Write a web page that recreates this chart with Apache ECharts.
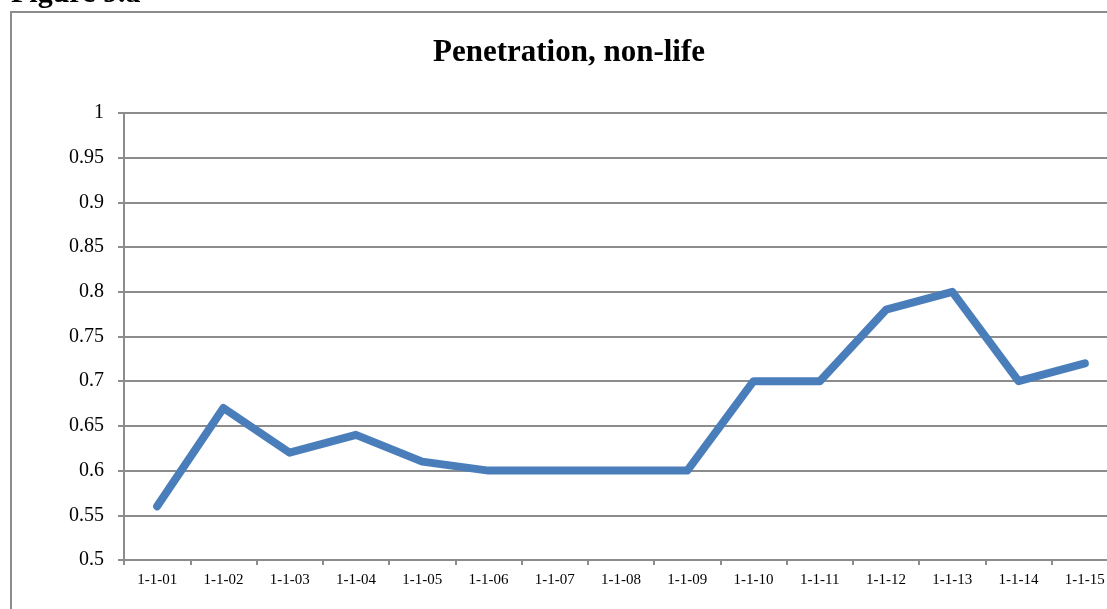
<!DOCTYPE html>
<html>
<head>
<meta charset="utf-8">
<script src="https://cdn.jsdelivr.net/npm/echarts@6/dist/echarts.min.js"></script>
<style>
    html, body { margin: 0; padding: 0; background: #fff; overflow: hidden; }
    /* the original figure is cropped on the right, so the chart is a bit wider than the window */
    #chart { width: 1120px; height: 609px; }
</style>
</head>
<body>
<div id="chart"></div>
<script>
    // categories and values
    const categories = ["1-1-01", "1-1-02", "1-1-03", "1-1-04", "1-1-05", "1-1-06", "1-1-07", "1-1-08",
        "1-1-09", "1-1-10", "1-1-11", "1-1-12", "1-1-13", "1-1-14", "1-1-15"];
    const penetration = [0.56, 0.67, 0.62, 0.64, 0.61, 0.60, 0.60, 0.60, 0.60, 0.70, 0.70, 0.78, 0.80, 0.70, 0.72];
    const yTicks = { min: 0.5, max: 1, step: 0.05 };

    const serif = "'Liberation Serif', 'DejaVu Serif', serif";
    const gray = "#8c8c8c";

    const chart = echarts.init(document.getElementById("chart"));

    const option = {
        animation: false,
        backgroundColor: "#fff",
        title: {
            text: "Penetration, non-life",
            left: 564,
            top: 32,
            textAlign: "center",
            textStyle: { fontFamily: serif, fontWeight: "bold", fontSize: 31, color: "#000" }
        },
        graphic: [
            {
                type: "rect",
                shape: { x: 11, y: 12, width: 1200, height: 700 },
                style: { fill: "none", stroke: gray, lineWidth: 2 },
                z: -1
            },
            {
                // caption above the box, cut off by the top edge in the original
                type: "text",
                left: 11,
                top: -21,
                style: { text: "Figure 9.a", fontFamily: serif, fontWeight: "bold", fontSize: 30, fill: "#000" }
            }
        ],
        grid: { left: 124, right: 2, top: 113, bottom: 49 },
        xAxis: {
            type: "category",
            data: categories,
            boundaryGap: true,
            axisLine: { lineStyle: { color: gray, width: 2 } },
            axisTick: { show: true, length: 5, lineStyle: { color: gray, width: 2 } },
            axisLabel: { fontFamily: serif, fontSize: 15, color: "#000", margin: 13, interval: 0 },
            splitLine: { show: false }
        },
        yAxis: {
            type: "value",
            min: yTicks.min,
            max: yTicks.max,
            interval: yTicks.step,
            axisLine: { show: true, lineStyle: { color: gray, width: 2 } },
            axisTick: { show: true, length: 6, lineStyle: { color: gray, width: 2 } },
            axisLabel: { fontFamily: serif, fontSize: 20, color: "#000", margin: 20 },
            splitLine: { lineStyle: { color: gray, width: 2 } }
        },
        series: [
            {
                type: "line",
                data: penetration,
                showSymbol: false,
                symbol: "none",
                lineStyle: { color: "#4a7ebb", width: 8, cap: "round", join: "round" }
            }
        ]
    };

    chart.setOption(option);
</script>
</body>
</html>
